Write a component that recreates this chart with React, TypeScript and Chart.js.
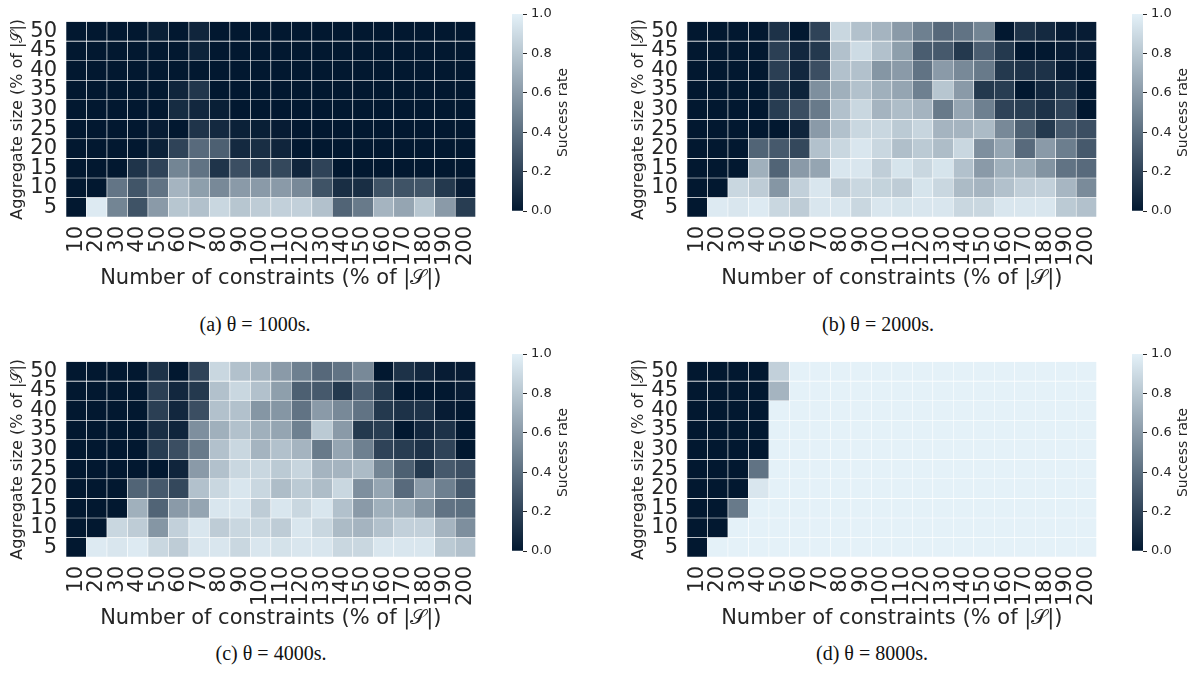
import React, { useEffect, useRef } from "react";
import { Chart, registerables } from "chart.js";

Chart.register(...registerables);
Chart.defaults.font.family = "'DejaVu Sans', sans-serif";
Chart.defaults.color = "#262626";

const TEXT = "#262626";

// Number of constraints (% of |S|)
const constraintLabels = [
  "10", "20", "30", "40", "50", "60", "70", "80", "90", "100",
  "110", "120", "130", "140", "150", "160", "170", "180", "190", "200",
];

// Aggregate size (% of |S|), bottom to top
const aggregateLabels = ["5", "10", "15", "20", "25", "30", "35", "40", "45", "50"];

const colorbarTicks = [0, 0.2, 0.4, 0.6, 0.8, 1.0];

// Success rates, rows from aggregate size 50 (top) down to 5 (bottom)
const rate1000 = [
  [0, 0, 0, 0, 0.03, 0, 0.06, 0, 0, 0, 0, 0, 0, 0, 0, 0, 0, 0, 0, 0],
  [0, 0, 0, 0, 0, 0, 0.05, 0, 0, 0, 0, 0, 0, 0, 0, 0, 0, 0, 0, 0],
  [0, 0, 0, 0, 0, 0, 0, 0, 0, 0, 0, 0, 0, 0, 0, 0, 0, 0, 0, 0],
  [0, 0, 0, 0, 0, 0.06, 0.14, 0, 0, 0, 0, 0, 0, 0, 0, 0, 0, 0, 0, 0],
  [0, 0, 0, 0, 0, 0.09, 0.07, 0.03, 0, 0, 0, 0, 0, 0, 0, 0, 0, 0, 0, 0],
  [0, 0, 0, 0, 0.02, 0, 0.13, 0.08, 0.04, 0.03, 0.02, 0, 0, 0, 0, 0, 0, 0, 0, 0],
  [0, 0, 0, 0, 0.04, 0.2, 0.38, 0.33, 0.08, 0.1, 0.06, 0, 0, 0, 0, 0, 0, 0, 0, 0],
  [0, 0, 0, 0.13, 0.2, 0.5, 0.42, 0.13, 0.25, 0.18, 0.22, 0.06, 0.2, 0, 0, 0, 0, 0, 0, 0],
  [0, 0, 0.43, 0.28, 0.42, 0.72, 0.62, 0.52, 0.6, 0.6, 0.6, 0.52, 0.27, 0.1, 0.1, 0.27, 0.27, 0.28, 0.15, 0.02],
  [0, 0.97, 0.5, 0.27, 0.6, 0.8, 0.78, 0.88, 0.8, 0.83, 0.85, 0.85, 0.78, 0.35, 0.45, 0.72, 0.65, 0.8, 0.6, 0.17],
];

const rate2000 = [
  [0, 0, 0, 0, 0.12, 0, 0.2, 0.88, 0.78, 0.72, 0.6, 0.48, 0.37, 0.42, 0.5, 0, 0.12, 0.08, 0.02, 0.02],
  [0, 0, 0, 0, 0.18, 0.07, 0.15, 0.78, 0.9, 0.78, 0.62, 0.32, 0.3, 0.15, 0.32, 0.15, 0, 0, 0.02, 0.02],
  [0, 0, 0, 0, 0.18, 0.07, 0.25, 0.78, 0.78, 0.58, 0.6, 0.42, 0.6, 0.52, 0.45, 0.15, 0.12, 0.12, 0.02, 0],
  [0, 0, 0, 0, 0.1, 0.05, 0.55, 0.7, 0.78, 0.7, 0.65, 0.48, 0.8, 0.6, 0.15, 0.17, 0, 0.07, 0.12, 0],
  [0, 0, 0, 0, 0.17, 0.25, 0.45, 0.78, 0.88, 0.72, 0.76, 0.72, 0.45, 0.65, 0.48, 0.2, 0.17, 0.12, 0.2, 0],
  [0, 0, 0, 0, 0, 0.06, 0.6, 0.78, 0.88, 0.88, 0.82, 0.87, 0.72, 0.72, 0.75, 0.52, 0.33, 0.15, 0.3, 0.25],
  [0, 0, 0, 0.35, 0.3, 0.22, 0.78, 0.88, 0.95, 0.88, 0.77, 0.82, 0.76, 0.88, 0.55, 0.65, 0.38, 0.6, 0.47, 0.3],
  [0, 0, 0, 0.7, 0.35, 0.6, 0.65, 0.95, 0.95, 0.84, 0.94, 0.88, 0.94, 0.78, 0.6, 0.7, 0.68, 0.57, 0.42, 0.38],
  [0, 0, 0.88, 0.83, 0.58, 0.85, 0.95, 0.83, 0.88, 0.86, 0.83, 0.94, 0.88, 0.75, 0.72, 0.78, 0.84, 0.85, 0.73, 0.53],
  [0, 0.97, 0.95, 0.97, 0.88, 0.83, 0.95, 0.95, 0.88, 0.95, 0.94, 0.95, 0.95, 0.88, 0.88, 0.95, 0.95, 0.95, 0.82, 0.78],
];

const rate4000 = [
  [0, 0, 0, 0, 0.12, 0, 0.2, 0.88, 0.78, 0.72, 0.6, 0.48, 0.37, 0.42, 0.52, 0, 0.12, 0.07, 0.02, 0.02],
  [0, 0, 0, 0, 0.18, 0.07, 0.15, 0.78, 0.88, 0.78, 0.62, 0.33, 0.3, 0.15, 0.32, 0.15, 0, 0, 0, 0.02],
  [0, 0, 0, 0, 0.18, 0.07, 0.25, 0.78, 0.78, 0.58, 0.58, 0.42, 0.6, 0.52, 0.42, 0.15, 0.12, 0.12, 0.02, 0],
  [0, 0, 0, 0, 0.1, 0.06, 0.55, 0.7, 0.78, 0.7, 0.65, 0.48, 0.82, 0.6, 0.15, 0.17, 0, 0.07, 0.12, 0],
  [0, 0, 0, 0, 0.17, 0.25, 0.45, 0.78, 0.88, 0.72, 0.78, 0.72, 0.45, 0.65, 0.48, 0.2, 0.17, 0.12, 0.2, 0],
  [0, 0, 0, 0, 0, 0.06, 0.6, 0.78, 0.88, 0.88, 0.82, 0.87, 0.72, 0.72, 0.75, 0.5, 0.33, 0.15, 0.3, 0.25],
  [0, 0, 0, 0.35, 0.3, 0.22, 0.78, 0.88, 0.95, 0.88, 0.76, 0.82, 0.76, 0.88, 0.55, 0.65, 0.38, 0.6, 0.48, 0.3],
  [0, 0, 0, 0.7, 0.35, 0.6, 0.65, 0.95, 0.95, 0.83, 0.95, 0.88, 0.95, 0.78, 0.6, 0.7, 0.68, 0.57, 0.42, 0.4],
  [0, 0, 0.88, 0.83, 0.58, 0.85, 0.95, 0.83, 0.88, 0.88, 0.83, 0.95, 0.88, 0.75, 0.72, 0.78, 0.85, 0.85, 0.72, 0.55],
  [0, 0.97, 0.95, 0.97, 0.88, 0.83, 0.95, 0.95, 0.88, 0.95, 0.93, 0.95, 0.95, 0.88, 0.88, 0.95, 0.95, 0.95, 0.82, 0.78],
];

const rate8000 = [
  [0, 0, 0, 0, 0.85, 1, 1, 1, 1, 1, 1, 1, 1, 1, 1, 1, 1, 1, 1, 1],
  [0, 0, 0, 0, 0.72, 1, 1, 1, 1, 1, 1, 1, 1, 1, 1, 1, 1, 1, 1, 1],
  [0, 0, 0, 0, 1, 1, 1, 1, 1, 1, 1, 1, 1, 1, 1, 1, 1, 1, 1, 1],
  [0, 0, 0, 0, 1, 1, 1, 1, 1, 1, 1, 1, 1, 1, 1, 1, 1, 1, 1, 1],
  [0, 0, 0, 0, 1, 1, 1, 1, 1, 1, 1, 1, 1, 1, 1, 1, 1, 1, 1, 1],
  [0, 0, 0, 0.42, 1, 1, 1, 1, 1, 1, 1, 1, 1, 1, 1, 1, 1, 1, 1, 1],
  [0, 0, 0, 0.95, 1, 1, 1, 1, 1, 1, 1, 1, 1, 1, 1, 1, 1, 1, 1, 1],
  [0, 0, 0.45, 1, 1, 1, 1, 1, 1, 1, 1, 1, 1, 1, 1, 1, 1, 1, 1, 1],
  [0, 0, 1, 1, 1, 1, 1, 1, 1, 1, 1, 1, 1, 1, 1, 1, 1, 1, 1, 1],
  [0, 1, 1, 1, 1, 1, 1, 1, 1, 1, 1, 1, 1, 1, 1, 1, 1, 1, 1, 1],
];

// Colormap end points (0 = dark navy, 1 = pale blue)
const DARK = [2, 24, 48];
const LIGHT = [228, 241, 248];

function rateColor(v: number): string {
  const c = DARK.map((d, i) => Math.round(d + (LIGHT[i] - d) * v));
  return `rgb(${c[0]},${c[1]},${c[2]})`;
}

const HEAT_W = 500;
const HEAT_H = 300;

function Heatmap({ rows, left, top, padRight }: { rows: number[][]; left: number; top: number; padRight: number }) {
  const ref = useRef<HTMLCanvasElement | null>(null);
  useEffect(() => {
    if (!ref.current) return;
    const n = aggregateLabels.length;
    const datasets = rows.map((row, i) => {
      const level = n - 1 - i;
      return {
        data: constraintLabels.map(() => [level, level + 1]),
        backgroundColor: row.map(rateColor),
        borderColor: "#ffffff",
        borderWidth: 0.6,
        borderSkipped: false,
        grouped: false,
        barPercentage: 1,
        categoryPercentage: 1,
      };
    });
    const chart = new Chart(ref.current, {
      type: "bar",
      data: { labels: constraintLabels, datasets: datasets as any },
      options: {
        animation: false,
        responsive: false,
        events: [],
        layout: { padding: { top: 7, right: padRight, left: 0, bottom: 0 } },
        plugins: { legend: { display: false }, tooltip: { enabled: false } },
        scales: {
          x: {
            grid: { display: false, drawTicks: false },
            border: { display: false },
            ticks: {
              autoSkip: false,
              minRotation: 90,
              maxRotation: 90,
              padding: 9,
              color: TEXT,
              font: { size: 21 },
            },
            title: {
              display: true,
              text: "Number of constraints (% of |𝒮|)",
              color: TEXT,
              font: { size: 21 },
              padding: { top: 0, bottom: 9 },
            },
            afterFit: (s: any) => {
              s.height = HEAT_H - 217;
            },
          },
          y: {
            min: 0,
            max: aggregateLabels.length,
            grid: { display: false, drawTicks: false },
            border: { display: false },
            afterBuildTicks: (s: any) => {
              s.ticks = aggregateLabels.map((_, i) => ({ value: i + 0.5 }));
            },
            ticks: {
              autoSkip: false,
              padding: 9,
              color: TEXT,
              font: { size: 21 },
              callback: (v: any) => aggregateLabels[Math.floor(Number(v))],
            },
            title: {
              display: true,
              text: "Aggregate size (% of |𝒮|)",
              color: TEXT,
              font: { size: 16 },
              padding: { top: 8, bottom: 0 },
            },
            afterFit: (s: any) => {
              s.width = 66;
            },
          },
        },
      },
    });
    return () => chart.destroy();
  }, [rows, padRight]);
  return (
    <canvas
      ref={ref}
      width={HEAT_W}
      height={HEAT_H}
      style={{ position: "absolute", left, top, width: HEAT_W, height: HEAT_H }}
    />
  );
}

const CB_W = 74;
const CB_H = 230;

const colorbarLabel = {
  id: "colorbarLabel",
  afterDraw(chart: any) {
    const { ctx, chartArea } = chart;
    ctx.save();
    ctx.translate(chartArea.right + 40, (chartArea.top + chartArea.bottom) / 2);
    ctx.rotate(-Math.PI / 2);
    ctx.font = "14px 'DejaVu Sans', sans-serif";
    ctx.fillStyle = TEXT;
    ctx.textAlign = "center";
    ctx.textBaseline = "middle";
    ctx.fillText("Success rate", 0, 0);
    ctx.restore();
  },
};

function Colorbar({ left, top }: { left: number; top: number }) {
  const ref = useRef<HTMLCanvasElement | null>(null);
  useEffect(() => {
    if (!ref.current) return;
    const chart = new Chart(ref.current, {
      type: "bar",
      data: {
        labels: [""],
        datasets: [
          {
            data: [[0, 1]] as any,
            backgroundColor: (ctx: any) => {
              const area = ctx.chart.chartArea;
              if (!area) return rateColor(0.5);
              const g = ctx.chart.ctx.createLinearGradient(0, area.bottom, 0, area.top);
              for (let k = 0; k <= 10; k++) g.addColorStop(k / 10, rateColor(k / 10));
              return g;
            },
            borderWidth: 0,
            barPercentage: 1,
            categoryPercentage: 1,
          },
        ],
      },
      options: {
        animation: false,
        responsive: false,
        events: [],
        layout: { padding: { top: 14, bottom: 19, left: 7, right: 0 } },
        plugins: { legend: { display: false }, tooltip: { enabled: false } },
        scales: {
          x: { display: false },
          y: {
            position: "right",
            min: 0,
            max: 1,
            afterBuildTicks: (s: any) => {
              s.ticks = colorbarTicks.map((v) => ({ value: v }));
            },
            ticks: {
              padding: 4,
              color: TEXT,
              font: { size: 13 },
              callback: (v: any) => Number(v).toFixed(1),
            },
            grid: { drawOnChartArea: false, drawTicks: true, tickLength: 4, color: TEXT, lineWidth: 1 },
            border: { display: false },
            afterFit: (s: any) => {
              s.width = CB_W - 18;
            },
          },
        },
      },
      plugins: [colorbarLabel],
    });
    return () => chart.destroy();
  }, []);
  return (
    <canvas
      ref={ref}
      width={CB_W}
      height={CB_H}
      style={{ position: "absolute", left, top, width: CB_W, height: CB_H }}
    />
  );
}

function Caption({ text, cx, cy }: { text: string; cx: number; cy: number }) {
  return (
    <div
      style={{
        position: "absolute",
        left: cx - 150,
        top: cy - 12,
        width: 300,
        textAlign: "center",
        font: "20px 'Liberation Serif', 'Times New Roman', serif",
        lineHeight: "24px",
        color: "#111",
        whiteSpace: "nowrap",
      }}
    >
      {text}
    </div>
  );
}

export default function App() {
  return (
    <div style={{ position: "absolute", left: 0, top: 0, width: 1199, height: 679, background: "#fff", overflow: "hidden" }}>
      <Heatmap rows={rate1000} left={0} top={0} padRight={13} />
      <Colorbar left={505} top={0} />
      <Caption text="(a) θ = 1000s." cx={255} cy={324} />

      <Heatmap rows={rate2000} left={621} top={0} padRight={14} />
      <Colorbar left={1125} top={0} />
      <Caption text="(b) θ = 2000s." cx={878} cy={324} />

      <Heatmap rows={rate4000} left={0} top={340} padRight={13} />
      <Colorbar left={505} top={340} />
      <Caption text="(c) θ = 4000s." cx={271} cy={653} />

      <Heatmap rows={rate8000} left={621} top={340} padRight={14} />
      <Colorbar left={1125} top={340} />
      <Caption text="(d) θ = 8000s." cx={872} cy={653} />
    </div>
  );
}
